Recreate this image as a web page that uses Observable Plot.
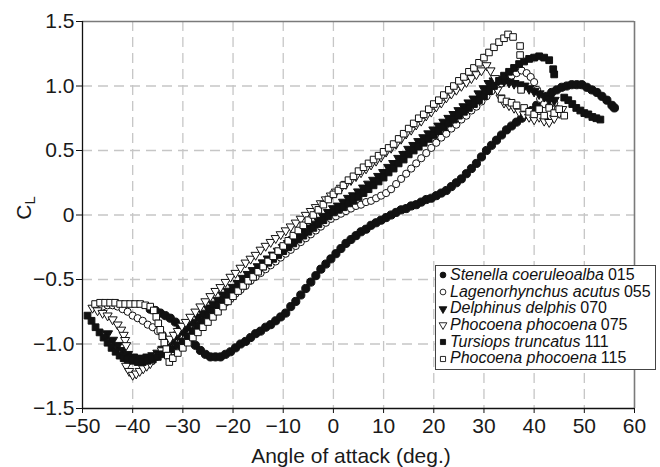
<!DOCTYPE html>
<html><head><meta charset="utf-8">
<script src="https://cdn.jsdelivr.net/npm/d3@7"></script>
<script src="https://cdn.jsdelivr.net/npm/@observablehq/plot@0.6"></script>
<style>
body{margin:0;background:#fff;}
#wrap{position:relative;width:660px;height:467px;font-family:"Liberation Sans",Arial,Helvetica,sans-serif;}
#wrap svg.plot{position:absolute;left:0;top:0;}
#legend{position:absolute;left:435px;top:265px;width:219px;height:102px;border:1px solid #444;background:#fff;padding-top:1px;box-sizing:content-box;}
.row{height:16.7px;line-height:16.7px;font-size:16px;white-space:nowrap;display:flex;align-items:center;color:#111;}
.row svg{flex:none;margin-left:2px;margin-right:2px;}
.row i{font-style:italic;margin-right:4px;}
</style></head>
<body><div id="wrap"></div>
<script>
// ---- axis ticks ----
const xTicks = [-50,-40,-30,-20,-10,0,10,20,30,40,50,60];
const yTicks = [-1.5,-1.0,-0.5,0,0.5,1.0,1.5];
const xGrid = [-40,-30,-20,-10,0,10,20,30,40,50];
const yGrid = [-1.0,-0.5,0,0.5,1.0];

// ---- series names ----
const speciesNames = ["Stenella coeruleoalba","Lagenorhynchus acutus","Delphinus delphis","Phocoena phocoena","Tursiops truncatus","Phocoena phocoena"];
const speciesCodes = ["015","055","070","075","111","115"];

// ---- data: [angle of attack (deg), CL] ----
const s015 = [[-36.5,-0.73],[-35.5,-0.74],[-34.5,-0.76],[-33.5,-0.78],[-32.5,-0.80],[-31.5,-0.83],[-30.5,-0.87],[-29.5,-0.91],[-28.5,-0.96],[-27.5,-1.01],[-26.5,-1.05],[-25.5,-1.08],[-24.5,-1.10],[-23.5,-1.10],[-22.5,-1.10],[-21.5,-1.08],[-20.5,-1.06],[-19.5,-1.03],[-18.5,-1.00],[-17.5,-0.98],[-16.5,-0.95],[-15.5,-0.92],[-14.5,-0.90],[-13.5,-0.87],[-12.5,-0.85],[-11.5,-0.82],[-10.5,-0.79],[-9.5,-0.76],[-8.5,-0.71],[-7.5,-0.67],[-6.5,-0.62],[-5.5,-0.57],[-4.5,-0.52],[-3.5,-0.47],[-2.5,-0.42],[-1.5,-0.38],[-0.5,-0.34],[0.5,-0.30],[1.5,-0.26],[2.5,-0.22],[3.5,-0.19],[4.5,-0.16],[5.5,-0.13],[6.5,-0.11],[7.5,-0.08],[8.5,-0.06],[9.5,-0.04],[10.5,-0.02],[11.5,0.00],[12.5,0.02],[13.5,0.04],[14.5,0.05],[15.5,0.07],[16.5,0.08],[17.5,0.10],[18.5,0.12],[19.5,0.13],[20.5,0.15],[21.5,0.17],[22.5,0.19],[23.5,0.22],[24.5,0.25],[25.5,0.28],[26.5,0.32],[27.5,0.36],[28.5,0.40],[29.5,0.45],[30.5,0.50],[31.5,0.54],[32.5,0.58],[33.5,0.62],[34.5,0.66],[35.5,0.69],[36.5,0.72],[37.5,0.75],[38.5,0.78],[39.5,0.81],[40.5,0.85],[41.5,0.88],[42.5,0.92],[43.5,0.95],[44.5,0.97],[45.5,0.99],[46.5,1.00],[47.5,1.01],[48.5,1.01],[49.5,1.01],[50.5,0.99],[51.5,0.97],[52.5,0.95],[53.5,0.92],[54.5,0.89],[55.5,0.85],[56,0.83]];

const s055 = [[-46,-0.71],[-45,-0.70],[-44,-0.70],[-43,-0.71],[-42,-0.73],[-41,-0.75],[-40,-0.78],[-39,-0.80],[-38,-0.82],[-37,-0.85],[-36,-0.87],[-35,-0.90],[-34,-0.93],[-33.3,-0.97],[-32.8,-1.02],[-32.3,-1.06],[-31.5,-1.03],[-30.5,-0.99],[-29.5,-0.96],[-28.5,-0.92],[-27.5,-0.89],[-26.5,-0.85],[-25.5,-0.82],[-24.5,-0.78],[-23.5,-0.75],[-22.5,-0.71],[-21.5,-0.68],[-20.5,-0.65],[-19.5,-0.61],[-18.5,-0.58],[-17.5,-0.55],[-16.5,-0.51],[-15.5,-0.48],[-14.5,-0.45],[-13.5,-0.42],[-12.5,-0.39],[-11.5,-0.36],[-10.5,-0.33],[-9.5,-0.30],[-8.5,-0.27],[-7.5,-0.24],[-6.5,-0.21],[-5.5,-0.18],[-4.5,-0.15],[-3.5,-0.12],[-2.5,-0.09],[-1.5,-0.06],[-0.5,-0.03],[0.5,-0.01],[1.5,0.01],[2.5,0.03],[3.5,0.05],[4.5,0.07],[5.5,0.08],[6.5,0.10],[7.5,0.11],[8.5,0.13],[9.5,0.15],[10.5,0.17],[11.5,0.20],[12.5,0.24],[13.5,0.28],[14.5,0.32],[15.5,0.36],[16.5,0.40],[17.5,0.44],[18.5,0.48],[19.5,0.52],[20.5,0.56],[21.5,0.60],[22.5,0.63],[23.5,0.67],[24.5,0.70],[25.5,0.74],[26.5,0.77],[27.5,0.81],[28.5,0.84],[29.5,0.88],[30.5,0.92],[31.5,0.96],[32.5,0.99],[33.5,1.02],[34.5,1.05],[35.5,1.08],[36.5,1.10],[37.5,1.12],[38.5,1.10],[39.3,1.07],[40,1.03],[40.6,0.97],[41.2,0.90],[42,0.86],[43,0.84],[44,0.87],[44.7,0.82],[45.3,0.79]];

const s070 = [[-45,-0.92],[-44,-0.97],[-43,-1.01],[-42,-1.05],[-41,-1.08],[-40,-1.10],[-39,-1.11],[-38,-1.11],[-37,-1.10],[-36,-1.09],[-35,-1.07],[-34,-1.04],[-33,-1.01],[-32,-0.97],[-31,-0.93],[-30,-0.90],[-29,-0.86],[-28,-0.83],[-27,-0.79],[-26,-0.76],[-25,-0.72],[-24,-0.69],[-23,-0.66],[-22,-0.62],[-21,-0.59],[-20,-0.56],[-19,-0.53],[-18,-0.49],[-17,-0.46],[-16,-0.43],[-15,-0.40],[-14,-0.37],[-13,-0.34],[-12,-0.31],[-11,-0.28],[-10,-0.25],[-9,-0.22],[-8,-0.19],[-7,-0.16],[-6,-0.13],[-5,-0.10],[-4,-0.07],[-3,-0.04],[-2,-0.01],[-1,0.02],[0,0.05],[1,0.07],[2,0.10],[3,0.13],[4,0.15],[5,0.18],[6,0.21],[7,0.24],[8,0.27],[9,0.30],[10,0.33],[11,0.37],[12,0.40],[13,0.44],[14,0.47],[15,0.51],[16,0.54],[17,0.57],[18,0.60],[19,0.63],[20,0.66],[21,0.69],[22,0.72],[23,0.75],[24,0.78],[25,0.81],[26,0.84],[27,0.87],[28,0.90],[29,0.94],[30,0.98],[31,1.02],[32,1.04],[33,1.05],[34,1.04],[35,1.03],[36,1.02],[37,1.01],[38,1.00],[39,0.98],[40,0.96],[41,0.94],[42,0.92],[43,0.90],[44,0.89]];

const s075 = [[-48,-0.72],[-47,-0.74],[-46,-0.76],[-45,-0.78],[-44,-0.81],[-43,-0.85],[-42.3,-0.89],[-41.8,-0.93],[-41.5,-0.97],[-41.3,-1.01],[-41.3,-1.17],[-40.7,-1.21],[-40,-1.24],[-39.3,-1.23],[-38.6,-1.21],[-37.9,-1.19],[-37.2,-1.17],[-36.5,-1.15],[-35.8,-1.12],[-35,-1.09],[-34.2,-1.05],[-33.4,-1.00],[-32.6,-0.96],[-31.8,-0.93],[-31,-0.90],[-30.2,-0.86],[-29.4,-0.83],[-28.5,-0.79],[-27.5,-0.75],[-26.5,-0.71],[-25.5,-0.67],[-24.5,-0.63],[-23.5,-0.59],[-22.5,-0.56],[-21.5,-0.52],[-20.5,-0.48],[-19.5,-0.45],[-18.5,-0.41],[-17.5,-0.37],[-16.5,-0.34],[-15.5,-0.31],[-14.5,-0.27],[-13.5,-0.24],[-12.5,-0.21],[-11.5,-0.18],[-10.5,-0.15],[-9.5,-0.12],[-8.5,-0.09],[-7.5,-0.06],[-6.5,-0.03],[-5.5,0.00],[-4.5,0.03],[-3.5,0.06],[-2.5,0.09],[-1.5,0.12],[-0.5,0.15],[0.5,0.18],[1.5,0.21],[2.5,0.24],[3.5,0.27],[4.5,0.30],[5.5,0.33],[6.5,0.36],[7.5,0.39],[8.5,0.42],[9.5,0.45],[10.5,0.49],[11.5,0.52],[12.5,0.55],[13.5,0.59],[14.5,0.63],[15.5,0.66],[16.5,0.70],[17.5,0.73],[18.5,0.77],[19.5,0.80],[20.5,0.84],[21.5,0.87],[22.5,0.91],[23.5,0.94],[24.5,0.97],[25.5,1.00],[26.5,1.03],[27.5,1.06],[28.5,1.09],[29.5,1.12],[30.5,1.16],[31.3,1.12],[32.2,1.06],[32.7,0.97],[33.3,0.91],[34,0.87],[35,0.85],[36,0.83],[37,0.80],[38,0.78],[39,0.76],[40,0.74],[41,0.76],[42,0.73],[43,0.72],[44,0.75],[45,0.79],[45.6,0.82]];

const s111 = [[-49,-0.78],[-48.2,-0.82],[-47.4,-0.87],[-46.6,-0.91],[-45.8,-0.95],[-45,-0.99],[-44.2,-1.03],[-43.4,-1.06],[-42.6,-1.09],[-41.8,-1.11],[-41,-1.12],[-40,-1.13],[-39,-1.14],[-38,-1.14],[-37,-1.13],[-36,-1.12],[-35,-1.10],[-34,-1.08],[-33,-1.06],[-32,-1.04],[-31,-1.01],[-30,-0.98],[-29,-0.94],[-28,-0.90],[-27,-0.86],[-26,-0.82],[-25,-0.78],[-24,-0.74],[-23,-0.70],[-22,-0.66],[-21,-0.62],[-20,-0.59],[-19,-0.56],[-18,-0.52],[-17,-0.49],[-16,-0.46],[-15,-0.43],[-14,-0.40],[-13,-0.37],[-12,-0.34],[-11,-0.31],[-10,-0.28],[-9,-0.25],[-8,-0.22],[-7,-0.19],[-6,-0.16],[-5,-0.13],[-4,-0.10],[-3,-0.07],[-2,-0.04],[-1,-0.01],[0,0.02],[1,0.04],[2,0.06],[3,0.09],[4,0.11],[5,0.14],[6,0.17],[7,0.20],[8,0.23],[9,0.26],[10,0.29],[11,0.33],[12,0.36],[13,0.40],[14,0.43],[15,0.47],[16,0.50],[17,0.53],[18,0.56],[19,0.59],[20,0.62],[21,0.65],[22,0.68],[23,0.71],[24,0.74],[25,0.77],[26,0.80],[27,0.83],[28,0.86],[29,0.89],[30,0.92],[31,0.96],[32,1.00],[33,1.04],[34,1.08],[35,1.11],[36,1.14],[37,1.17],[38,1.19],[39,1.21],[40,1.22],[41,1.23],[42,1.22],[43,1.20],[43.8,1.13],[44,1.09],[46,0.91],[46.8,0.89],[47.6,0.86],[48.4,0.83],[49.2,0.81],[50,0.79],[50.8,0.78],[51.6,0.76],[52.4,0.75],[53.2,0.74]];

const s115 = [[-47.5,-0.69],[-46.5,-0.68],[-45.5,-0.68],[-44.5,-0.68],[-43.5,-0.68],[-42.5,-0.69],[-41.5,-0.69],[-40.5,-0.69],[-39.5,-0.69],[-38.5,-0.69],[-37.5,-0.70],[-36.5,-0.71],[-35.8,-0.74],[-35.3,-0.79],[-34.9,-0.84],[-34.5,-0.89],[-34.1,-0.94],[-33.7,-0.99],[-33.3,-1.04],[-33,-1.09],[-32.7,-1.14],[-32,-1.11],[-31,-1.07],[-30,-1.03],[-29,-0.99],[-28,-0.95],[-27,-0.91],[-26,-0.87],[-25,-0.83],[-24,-0.79],[-23,-0.75],[-22,-0.71],[-21,-0.67],[-20,-0.63],[-19,-0.59],[-18,-0.55],[-17,-0.51],[-16,-0.48],[-15,-0.44],[-14,-0.40],[-13,-0.36],[-12,-0.32],[-11,-0.28],[-10,-0.24],[-9,-0.20],[-8,-0.16],[-7,-0.12],[-6,-0.08],[-5,-0.04],[-4,0.00],[-3,0.04],[-2,0.08],[-1,0.12],[0,0.16],[1,0.19],[2,0.23],[3,0.27],[4,0.30],[5,0.34],[6,0.37],[7,0.40],[8,0.43],[9,0.46],[10,0.49],[11,0.52],[12,0.55],[13,0.59],[14,0.63],[15,0.67],[16,0.71],[17,0.75],[18,0.78],[19,0.82],[20,0.86],[21,0.89],[22,0.93],[23,0.97],[24,1.00],[25,1.04],[26,1.07],[27,1.11],[28,1.14],[29,1.18],[30,1.22],[31,1.26],[32,1.30],[33,1.34],[34,1.37],[34.8,1.40],[35.8,1.38],[37.2,1.31],[37.2,1.24],[37.4,0.97],[33.5,0.90],[34.5,0.88],[35.5,0.87],[36.5,0.85],[38,0.83],[39,0.80],[40,0.78],[41,0.82],[42,0.77],[43,0.83],[44,0.79],[45,0.82],[46,0.77]];

// ---- symbols ----
const triDown = {
  draw(context, size) {
    const y = -Math.sqrt(size / (Math.sqrt(3) * 3));
    context.moveTo(0, -y * 2);
    context.lineTo(-Math.sqrt(3) * y, y);
    context.lineTo(Math.sqrt(3) * y, y);
    context.closePath();
  }
};
const styles = [
  {data: s015, symbol: "circle", r: 4.1, fill: "#111"},
  {data: s055, symbol: "circle", r: 3.6, fill: "white"},
  {data: s070, symbol: triDown, r: 3.7, fill: "#111"},
  {data: s075, symbol: triDown, r: 3.4, fill: "white"},
  {data: s111, symbol: "square", r: 3.8, fill: "#111"},
  {data: s115, symbol: "square", r: 3.7, fill: "white"}
];

const fmtY = d => d === 0 ? "0" : (d < 0 ? "\u2212" : "") + Math.abs(d).toFixed(1);
const fmtX = d => (d < 0 ? "\u2212" : "") + Math.abs(d);

const gridStyle = {stroke: "#c6c6c6", strokeOpacity: 1, strokeWidth: 1.3, strokeDasharray: "10,6"};

const chart = Plot.plot({
  width: 660, height: 467,
  marginLeft: 82, marginRight: 26, marginTop: 21, marginBottom: 59,
  x: {domain: [-50, 60]},
  y: {domain: [-1.5, 1.5]},
  style: {fontFamily: '"Liberation Sans", Arial, Helvetica, sans-serif', fontSize: "21px", color: "#1a1a1a", background: "white", overflow: "visible"},
  marks: [
    Plot.gridX(xGrid, gridStyle),
    Plot.gridY(yGrid, gridStyle),
    Plot.ruleY([1.5], {stroke: "#7a7a7a", strokeWidth: 1.6}),
    Plot.ruleX([60], {stroke: "#7a7a7a", strokeWidth: 1.6}),
    Plot.axisY(yTicks, {tickFormat: fmtY, tickSize: 6, tickPadding: 2, label: null, stroke: "#111"}),
    Plot.axisX(xTicks, {tickFormat: fmtX, tickSize: 5, tickPadding: 5, label: null, stroke: "#111"}),
    Plot.ruleX([-50], {stroke: "#111", strokeWidth: 1.3}),
    Plot.ruleY([-1.5], {stroke: "#111", strokeWidth: 1.3}),
    ...styles.map(s => Plot.dot(s.data, {x: d => d[0], y: d => d[1], symbol: s.symbol, r: s.r, fill: s.fill, stroke: "#111", strokeWidth: 1}))
  ]
});
chart.classList.add("plot");
const svg = d3.select(chart);
// y-axis label C_L
const yl = svg.append("text")
  .attr("transform", "translate(31,208) rotate(-90)")
  .attr("text-anchor", "middle")
  .attr("fill", "#1a1a1a")
  .style("font-size", "21px");
yl.append("tspan").text("C");
yl.append("tspan").attr("dy", 4).style("font-size", "15px").text("L");
// x-axis label
svg.append("text")
  .attr("x", 351).attr("y", 463)
  .attr("text-anchor", "middle")
  .attr("fill", "#1a1a1a")
  .style("font-size", "21px")
  .text("Angle of attack (deg.)");

const wrap = document.getElementById("wrap");
wrap.appendChild(chart);

// legend
const legend = document.createElement("div");
legend.id = "legend";
styles.forEach((s, i) => {
  const row = document.createElement("div");
  row.className = "row";
  const ms = d3.create("svg").attr("width", 10).attr("height", 12);
  const type = s.symbol === "circle" ? d3.symbolCircle : s.symbol === "square" ? d3.symbolSquare : s.symbol;
  ms.append("path")
    .attr("transform", "translate(5,6)")
    .attr("d", d3.symbol(type, 26)())
    .attr("fill", s.fill).attr("stroke", "#111").attr("stroke-width", 0.9);
  row.appendChild(ms.node());
  const it = document.createElement("i");
  it.textContent = speciesNames[i];
  row.appendChild(it);
  row.appendChild(document.createTextNode(speciesCodes[i]));
  legend.appendChild(row);
});
wrap.appendChild(legend);
</script></body></html>
